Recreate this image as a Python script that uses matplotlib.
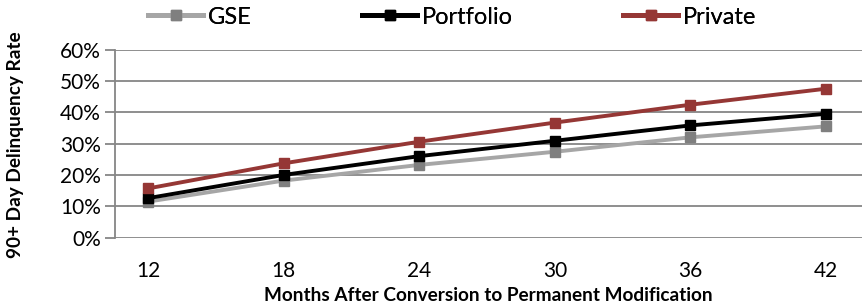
import matplotlib
matplotlib.use("Agg")
import matplotlib.pyplot as plt
from matplotlib.ticker import FuncFormatter

months = ["12", "18", "24", "30", "36", "42"]
gse = [11.5, 18.2, 23.2, 27.4, 32.0, 35.5]
portfolio = [12.6, 20.0, 26.0, 30.9, 35.8, 39.5]
private = [15.7, 23.7, 30.6, 36.7, 42.4, 47.5]
yticks = [0, 10, 20, 30, 40, 50, 60]

plt.rcParams['font.family'] = ['Lato', 'DejaVu Sans']

fig = plt.figure(figsize=(8.66, 3.05), dpi=100)
ax = fig.add_axes([115/866, (305-237.7)/305, (862-115)/866, (237.7-49.5)/305])

x = list(range(len(months)))
l1, = ax.plot(x, gse, color="#A6A6A6", lw=2.8, marker="s", ms=7.5,
              mfc="#7F7F7F", mec="#7F7F7F", label="GSE", zorder=3)
l2, = ax.plot(x, portfolio, color="#000000", lw=2.8, marker="s", ms=7.5,
              mfc="#000000", mec="#000000", label="Portfolio", zorder=4)
l3, = ax.plot(x, private, color="#953735", lw=2.8, marker="s", ms=7.5,
              mfc="#953735", mec="#953735", label="Private", zorder=5)

ax.set_xlim(-0.243, 5.265)
ax.set_ylim(0, 60)
ax.set_yticks(yticks)
ax.yaxis.set_major_formatter(FuncFormatter(lambda v, p: f"{int(v)}%"))
ax.set_xticks(x)
ax.set_xticklabels(months)
ax.grid(axis="y", color="#868686", lw=1.3)
ax.set_axisbelow(True)
for s in ["top", "right", "bottom"]:
    ax.spines[s].set_visible(False)
ax.spines["left"].set_color("#868686")
ax.spines["left"].set_linewidth(1.3)
ax.tick_params(axis="y", direction="out", length=7, width=1.3, color="#868686",
               labelsize=15, pad=3)
ax.tick_params(axis="x", length=0, labelsize=15, pad=17)

ax.set_xlabel("Months After Conversion to Permanent Modification",
              fontsize=13.7, fontweight="bold", labelpad=4)
fig.text(16/866, 1 - 145/305, "90+ Day Delinquency Rate", rotation=90,
         fontsize=13.7, fontweight="bold", ha="center", va="center")

for handle, xpos in [(l1, 148), (l2, 362), (l3, 623)]:
    leg = fig.legend(handles=[handle], loc="center left",
                     bbox_to_anchor=(xpos/866, 1 - 17/305),
                     frameon=False, fontsize=17, handlelength=2.33,
                     handletextpad=0.2, borderpad=0, borderaxespad=0)
    for ln in leg.get_lines():
        ln.set_linewidth(3.6)
    fig.add_artist(leg)

fig.savefig("out.png", dpi=100)
